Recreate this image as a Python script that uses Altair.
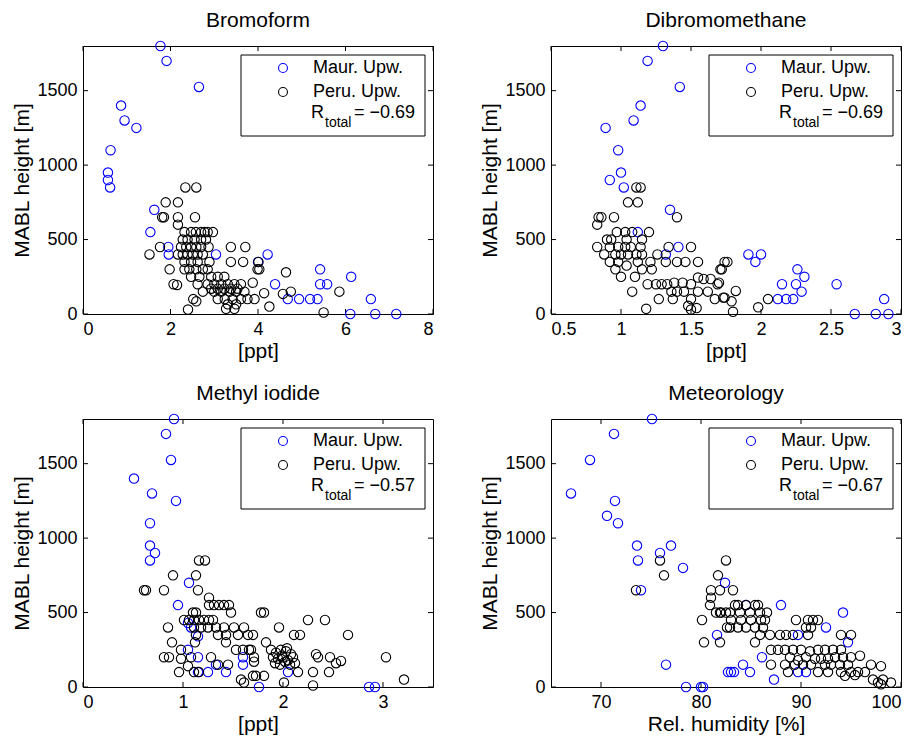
import altair as alt
import pandas as pd

FONT = "Liberation Sans"
W, H = 350, 268
GROUPS = ["Maur. Upw.", "Peru. Upw."]
COLORS = ["#0000ff", "#000000"]
Y_TICKS = [0, 500, 1000, 1500]

# ---------------- Bromoform ----------------
br_maur_x = [1.77, 1.91, 2.65, 0.87, 0.95, 1.22, 0.63, 0.57, 0.57, 0.62, 1.63, 1.54, 1.95, 1.96, 3.04, 4.0,
             4.22, 4.39, 5.42, 5.42, 5.58, 6.13, 4.68, 4.94, 5.19, 5.36, 6.58, 6.11, 6.68, 7.16]
br_maur_y = [1800, 1700, 1525, 1400, 1300, 1250, 1100, 950, 900, 850, 700, 550, 450, 400, 400, 350,
             400, 200, 300, 200, 200, 250, 100, 100, 100, 100, 100, 0, 0, 0]
br_peru_x = [2.34, 2.59, 1.89, 2.17, 1.81, 1.85, 2.17, 2.56, 2.17, 1.76, 1.52, 1.98, 2.07, 2.15, 2.40, 2.52, 2.59,
             3.38, 3.71, 3.38, 3.66, 3.99, 3.92, 3.27, 3.46,
             2.32, 2.47, 2.58, 2.70, 2.78, 2.85, 2.97,
             2.28, 2.39, 2.55, 2.70, 2.81,
             2.24, 2.36, 2.47, 2.59, 2.70, 2.87,
             2.17, 2.28, 2.39, 2.51, 2.62, 2.74,
             2.32, 2.47, 2.62, 2.89,
             2.32, 2.43, 2.59, 2.74, 2.85,
             2.47, 2.66, 2.93, 3.08, 3.23,
             2.62, 2.85, 3.00, 3.16, 3.31, 3.46, 3.61,
             2.93, 3.08, 3.23, 3.38, 3.53,
             2.74, 3.00, 3.16, 3.35, 3.50, 3.69,
             3.08, 3.24, 3.42, 3.61, 3.76,
             3.31, 3.50,
             4.01, 4.03, 4.64, 3.88, 4.14, 4.57, 4.75, 4.26, 5.86, 5.50]
br_peru_y = [850, 850, 750, 750, 650, 650, 650, 650, 600, 450, 400, 300, 200, 195, 30, 100, 85,
             450, 450, 350, 350, 300, 100, 35, 35,
             550, 550, 550, 550, 550, 550, 550,
             500, 500, 500, 500, 500,
             450, 450, 450, 450, 450, 450,
             400, 400, 400, 400, 400, 400,
             350, 350, 350, 350,
             300, 300, 300, 300, 300,
             250, 250, 250, 250, 250,
             200, 200, 200, 200, 200, 200, 200,
             170, 170, 170, 170, 170,
             150, 150, 150, 150, 150, 150,
             100, 100, 100, 100, 100,
             65, 65,
             350, 300, 280, 210, 140, 135, 150, 50, 150, 10]

# ---------------- Dibromomethane ----------------
db_maur_x = [1.30, 1.19, 1.42, 1.14, 1.09, 0.89, 0.98, 1.00, 0.92, 1.02, 1.35, 1.12, 1.41, 1.32, 1.91, 2.00,
             1.96, 2.26, 2.31, 2.15, 2.25, 2.29, 2.54, 2.12, 2.18, 2.23, 2.88, 2.67, 2.82, 2.91]
db_maur_y = [1800, 1700, 1525, 1400, 1300, 1250, 1100, 950, 900, 850, 700, 550, 450, 400, 400, 400,
             350, 300, 250, 200, 200, 150, 200, 100, 100, 100, 100, 0, 0, 0]
db_peru_x = [1.11, 1.14, 1.05, 1.12, 1.40, 0.86, 0.84, 0.95, 0.83, 0.90, 0.83, 0.88,
             0.97, 1.03, 1.08, 1.20,
             0.93, 1.04, 1.15,
             0.92, 0.98, 1.03, 1.07, 1.14, 1.34, 1.50,
             0.96, 1.00, 1.05, 1.11, 1.15, 1.26,
             0.92, 0.98, 1.12, 1.21, 1.32, 1.40, 1.46, 1.55,
             0.96, 1.04, 1.15, 1.22,
             1.00, 1.10,
             1.19, 1.25, 1.29, 1.33, 1.38, 1.44, 1.50, 1.55, 1.59, 1.64, 1.69, 1.71, 1.74,
             1.27, 1.36, 1.40, 1.45, 1.50, 1.55, 1.62, 1.67, 1.73, 1.37, 1.48, 1.54, 1.50, 1.08, 1.18,
             1.76, 1.72, 1.70, 1.82, 1.74, 1.79, 1.80, 1.98, 2.05]
db_peru_y = [850, 850, 750, 750, 650, 650, 650, 650, 600, 500, 450, 400,
             550, 550, 550, 550,
             500, 500, 500,
             450, 450, 450, 450, 450, 450, 450,
             400, 400, 400, 400, 400, 400,
             350, 350, 350, 350, 350, 350, 350, 350,
             300, 325, 300, 300,
             250, 250,
             200, 200, 200, 200, 210, 210, 200, 245, 235, 235, 200, 300, 350,
             100, 150, 150, 150, 100, 150, 150, 100, 110, 100, 55, 40, 30, 150, 35,
             350, 300, 210, 155, 110, 85, 15, 45, 100]

# ---------------- Methyl iodide ----------------
mi_maur_x = [0.91, 0.83, 0.88, 0.51, 0.69, 0.93, 0.67, 0.67, 0.72, 0.67, 1.06, 0.95, 1.05, 1.08, 1.15, 1.05,
             1.15, 1.33, 1.25, 1.15, 1.43, 1.60, 1.60, 1.76, 2.05, 2.86, 2.92]
mi_maur_y = [1800, 1700, 1525, 1400, 1300, 1250, 1100, 950, 900, 850, 700, 550, 430, 400, 340, 250,
             200, 150, 100, 100, 100, 200, 150, 0, 100, 0, 0]
mi_peru_x = [0.61, 0.63, 0.81, 0.90, 1.13, 1.16, 1.22, 1.15, 1.26, 1.26, 1.31, 1.36, 1.41, 1.46, 1.48,
             1.01, 1.06, 1.11, 1.16, 1.21, 1.26, 1.30, 1.10, 1.13,
             0.85, 1.11, 1.18, 1.25, 1.33, 1.41, 1.51, 1.61,
             1.13, 1.35, 1.43, 1.55, 1.65, 1.70,
             0.89, 1.12, 1.43,
             0.98, 1.53, 1.60, 1.66,
             0.81, 0.86, 0.98, 1.08, 1.28, 1.71,
             0.96, 1.05, 1.11, 1.16, 1.35, 1.45, 1.58, 1.61, 1.70, 1.78,
             1.81, 2.25, 2.42, 1.96, 1.83, 2.11, 2.17, 2.65, 3.03, 3.21,
             1.88, 1.93, 1.98, 2.03, 2.08, 1.90, 1.95, 2.00, 2.05, 2.10, 1.92, 1.97, 2.02, 2.07, 2.12, 1.99, 2.04,
             2.33, 2.35, 2.47, 2.58, 2.53, 2.46, 2.30, 2.15, 2.30, 2.01, 1.71, 1.68, 1.81, 1.73]
mi_peru_y = [650, 650, 650, 750, 750, 850, 850, 650, 600, 550, 550, 550, 550, 550, 500,
             450, 450, 450, 450, 450, 450, 450, 500, 500,
             400, 400, 400, 400, 400, 400, 400, 400,
             350, 350, 350, 350, 350, 350,
             300, 300, 300,
             250, 250, 250, 250,
             200, 200, 190, 200, 200, 200,
             100, 140, 100, 100, 150, 150, 50, 30, 75, 500,
             500, 450, 450, 400, 300, 350, 350, 350, 200, 50,
             250, 230, 250, 240, 220, 200, 190, 200, 180, 200, 160, 150, 170, 150, 160, 210, 260,
             220, 200, 200, 175, 160, 100, 100, 100, 10, 30, 170, 250, 75, 75]

# ---------------- Meteorology ----------------
me_maur_x = [75.1, 71.3, 68.9, 67.0, 71.4, 70.6, 71.7, 73.6, 73.7, 75.9, 77.0, 78.2, 74.0, 76.5, 78.5, 80.0,
             80.2, 81.6, 82.7, 82.4, 84.2, 84.9, 83.0, 83.3, 86.1, 87.3, 88.0, 89.7, 90.5, 89.7, 92.5,
             94.2, 94.7, 84.5]
me_maur_y = [1800, 1700, 1525, 1300, 1250, 1150, 1100, 950, 850, 900, 950, 800, 650, 150, 0, 0,
             0, 350, 100, 700, 150, 100, 100, 100, 200, 50, 550, 350, 100, 100, 400,
             500, 300, 550]
me_peru_x = [75.9, 76.3, 73.5, 80.1, 80.3, 80.9, 81.0, 81.0, 81.7, 81.9, 81.5, 81.9, 81.9, 82.6, 82.5, 82.5,
             83.2, 83.4, 83.7, 84.5, 85.4, 85.7,
             82.0, 82.9, 83.9, 84.9, 85.9, 86.6,
             83.0, 84.0, 85.0, 86.0, 86.4,
             82.9, 83.7, 84.5, 85.4, 86.2,
             85.9, 85.4,
             86.9, 87.9, 88.5, 89.2, 90.7,
             89.5, 90.7, 91.2, 91.7, 90.5, 91.0, 94.0, 95.0,
             87.0, 87.7, 88.4, 89.2, 90.0, 90.9, 91.7, 92.4, 93.2, 94.0,
             88.9, 89.7, 90.5, 91.4, 92.0, 92.7, 93.4, 94.2, 95.0, 95.9,
             87.0, 88.4, 89.4, 90.2, 91.0, 92.4, 93.0, 93.9, 94.7,
             88.7, 91.7, 92.7, 94.0, 95.0, 95.7, 96.4,
             97.0, 98.0, 97.2, 97.7, 98.2, 99.0, 98.0, 94.4, 95.4]
me_peru_y = [850, 750, 650, 450, 300, 550, 600, 650, 750, 650, 500, 500, 300, 400, 500, 850,
             650, 550, 550, 550, 550, 550,
             500, 500, 500, 500, 500, 500,
             450, 450, 450, 450, 450,
             400, 400, 400, 400, 400,
             350, 300,
             350, 350, 350, 350, 350,
             450, 450, 450, 450, 400, 400, 350, 350,
             250, 250, 250, 250, 250, 240, 250, 250, 250, 250,
             200, 180, 200, 190, 190, 190, 200, 200, 200, 210,
             150, 150, 150, 150, 150, 150, 150, 150, 150,
             100, 100, 100, 100, 100, 100, 100,
             150, 140, 50, 30, 50, 30, 18, 75, 80]


def panel(title, xtitle, xdom, xticks, mx, my, px, py, rval):
    df = pd.DataFrame({
        "x": list(mx) + list(px),
        "y": list(my) + list(py),
        "g": [GROUPS[0]] * len(mx) + [GROUPS[1]] * len(px),
    })
    xs = alt.Scale(domain=xdom, nice=False, zero=False)
    ys = alt.Scale(domain=[0, 1800], nice=False, zero=False)
    xax = alt.Axis(values=xticks, title=xtitle, format="~f")
    yax = alt.Axis(values=Y_TICKS, title="MABL height [m]", format="~f")
    X = alt.X("x:Q", scale=xs, axis=xax)
    Y = alt.Y("y:Q", scale=ys, axis=yax)

    pts = alt.Chart(df).mark_point(shape="circle", filled=False, size=88, strokeWidth=1.1, opacity=1).encode(
        x=X, y=Y,
        color=alt.Color("g:N", scale=alt.Scale(domain=GROUPS, range=COLORS),
                        legend=alt.Legend(orient="none", legendX=191, legendY=13, title=None,
                                          labelFontSize=18, labelFont=FONT, labelColor="black",
                                          symbolType="circle", symbolSize=80, symbolStrokeWidth=1.1,
                                          labelOffset=21, rowPadding=6, padding=0, zindex=2)),
    )
    xt = pd.DataFrame({"x": xticks})
    yt = pd.DataFrame({"y": Y_TICKS})
    tb = alt.Chart(xt).mark_rule(color="black", strokeWidth=1).encode(x=X, y=alt.value(H), y2=alt.value(H - 5))
    tt = alt.Chart(xt).mark_rule(color="black", strokeWidth=1).encode(x=X, y=alt.value(0), y2=alt.value(5))
    tl = alt.Chart(yt).mark_rule(color="black", strokeWidth=1).encode(y=Y, x=alt.value(0), x2=alt.value(5))
    tr = alt.Chart(yt).mark_rule(color="black", strokeWidth=1).encode(y=Y, x=alt.value(W - 5), x2=alt.value(W))

    one = pd.DataFrame({"k": [0]})
    box = alt.Chart(one).mark_rect(fill="white", stroke="black", strokeWidth=1).encode(
        x=alt.value(158), x2=alt.value(342), y=alt.value(9), y2=alt.value(90))
    r1 = alt.Chart(one).mark_text(text="R", font=FONT, fontSize=18, align="left", baseline="alphabetic",
                                  color="black").encode(x=alt.value(228), y=alt.value(72))
    r2 = alt.Chart(one).mark_text(text="total", font=FONT, fontSize=14, align="left", baseline="alphabetic",
                                  color="black").encode(x=alt.value(242), y=alt.value(81))
    r3 = alt.Chart(one).mark_text(text="= \u22120." + rval, font=FONT, fontSize=18, align="left",
                                  baseline="alphabetic", color="black").encode(x=alt.value(271), y=alt.value(72))

    return alt.layer(tb, tt, tl, tr, pts, box, r1, r2, r3).properties(
        width=W, height=H,
        title=alt.TitleParams(text=title, fontSize=21, font=FONT, fontWeight="normal", offset=8,
                              anchor="middle", color="black"),
    )


p1 = panel("Bromoform", "[ppt]", [0, 8], [0, 2, 4, 6, 8], br_maur_x, br_maur_y, br_peru_x, br_peru_y, "69")
p2 = panel("Dibromomethane", "[ppt]", [0.5, 3], [0.5, 1, 1.5, 2, 2.5, 3], db_maur_x, db_maur_y, db_peru_x, db_peru_y, "69")
p3 = panel("Methyl iodide", "[ppt]", [0, 3.5], [0, 1, 2, 3], mi_maur_x, mi_maur_y, mi_peru_x, mi_peru_y, "57")
p4 = panel("Meteorology", "Rel. humidity [%]", [65, 100], [70, 80, 90, 100], me_maur_x, me_maur_y, me_peru_x, me_peru_y, "67")

top = alt.hconcat(p1, p2, spacing=45).resolve_scale(color="independent").resolve_legend(color="independent")
bot = alt.hconcat(p3, p4, spacing=45).resolve_scale(color="independent").resolve_legend(color="independent")
chart = alt.vconcat(top, bot, spacing=20).resolve_scale(color="independent").resolve_legend(color="independent")

chart = chart.properties(
    padding={"left": 3, "top": 1, "right": 0, "bottom": 0}, background="white"
).configure_view(
    stroke="black", strokeWidth=1
).configure_axis(
    domain=False, ticks=False, grid=False, labelFont=FONT, titleFont=FONT, labelFontSize=18, titleFontSize=21,
    titleFontWeight="normal", labelColor="black", titleColor="black", labelPadding=6,
).configure_axisX(titlePadding=2).configure_axisY(titlePadding=4)

chart.save("out.html", embed_options={"renderer": "svg", "actions": False})
